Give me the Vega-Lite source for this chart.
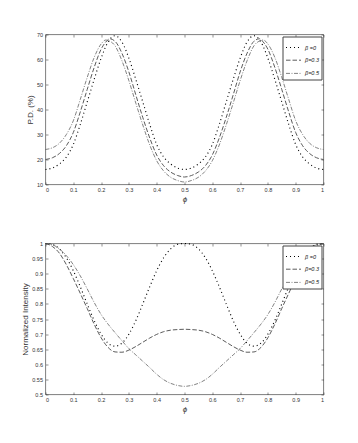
{
  "$schema": "https://vega.github.io/schema/vega-lite/v6.json",
  "background": "white",
  "padding": {"left": 20.5, "top": 31.5, "right": 30, "bottom": 20},
  "spacing": 37,
  "config": {
    "font": "Liberation Sans",
    "view": {"stroke": "#262626", "strokeWidth": 0.6},
    "axis": {"grid": false, "domain": false, "labelFontSize": 5.5, "labelColor": "#333333", "tickColor": "#262626", "tickSize": -2.5, "tickWidth": 0.5, "labelPadding": 5.5, "titleFontSize": 8, "titleFontWeight": "normal", "titleColor": "#333333", "titlePadding": 2},
    "legend": {"orient": "top-right", "offset": 2, "fillColor": "white", "strokeColor": "#444444", "padding": 2.5, "labelFontSize": 5.5, "labelFontStyle": "italic", "labelColor": "#222222", "symbolType": "stroke", "symbolSize": 225, "rowPadding": 1.2, "labelOffset": 3}
  },
  "datasets": {
    "pd": [
      {"phi":0,"beta":"β =0","v":16},{"phi":0.025,"beta":"β =0","v":16.6},{"phi":0.05,"beta":"β =0","v":18.2},{"phi":0.075,"beta":"β =0","v":21},{"phi":0.1,"beta":"β =0","v":26},{"phi":0.125,"beta":"β =0","v":34},{"phi":0.15,"beta":"β =0","v":43},{"phi":0.175,"beta":"β =0","v":52},{"phi":0.2,"beta":"β =0","v":60.5},{"phi":0.225,"beta":"β =0","v":67},{"phi":0.25,"beta":"β =0","v":69.5},{"phi":0.275,"beta":"β =0","v":67},{"phi":0.3,"beta":"β =0","v":60.5},{"phi":0.325,"beta":"β =0","v":52},{"phi":0.35,"beta":"β =0","v":43},{"phi":0.375,"beta":"β =0","v":34},{"phi":0.4,"beta":"β =0","v":26},{"phi":0.425,"beta":"β =0","v":21},{"phi":0.45,"beta":"β =0","v":18.2},{"phi":0.475,"beta":"β =0","v":16.6},{"phi":0.5,"beta":"β =0","v":16},{"phi":0.525,"beta":"β =0","v":16.6},{"phi":0.55,"beta":"β =0","v":18.2},{"phi":0.575,"beta":"β =0","v":21},{"phi":0.6,"beta":"β =0","v":26},{"phi":0.625,"beta":"β =0","v":34},{"phi":0.65,"beta":"β =0","v":43},{"phi":0.675,"beta":"β =0","v":52},{"phi":0.7,"beta":"β =0","v":60.5},{"phi":0.725,"beta":"β =0","v":67},{"phi":0.75,"beta":"β =0","v":69.5},{"phi":0.775,"beta":"β =0","v":67},{"phi":0.8,"beta":"β =0","v":60.5},{"phi":0.825,"beta":"β =0","v":52},{"phi":0.85,"beta":"β =0","v":43},{"phi":0.875,"beta":"β =0","v":34},{"phi":0.9,"beta":"β =0","v":26},{"phi":0.925,"beta":"β =0","v":21},{"phi":0.95,"beta":"β =0","v":18.2},{"phi":0.975,"beta":"β =0","v":16.6},{"phi":1,"beta":"β =0","v":16},
      {"phi":0,"beta":"β=0.3","v":20},{"phi":0.025,"beta":"β=0.3","v":20.7},{"phi":0.05,"beta":"β=0.3","v":22.4},{"phi":0.075,"beta":"β=0.3","v":25.5},{"phi":0.1,"beta":"β=0.3","v":30.8},{"phi":0.125,"beta":"β=0.3","v":39},{"phi":0.15,"beta":"β=0.3","v":48},{"phi":0.175,"beta":"β=0.3","v":56.8},{"phi":0.2,"beta":"β=0.3","v":64.1},{"phi":0.225,"beta":"β=0.3","v":67.9},{"phi":0.23,"beta":"β=0.3","v":68.3},{"phi":0.25,"beta":"β=0.3","v":67.3},{"phi":0.275,"beta":"β=0.3","v":62.5},{"phi":0.3,"beta":"β=0.3","v":55},{"phi":0.325,"beta":"β=0.3","v":45.8},{"phi":0.35,"beta":"β=0.3","v":36.8},{"phi":0.375,"beta":"β=0.3","v":28.6},{"phi":0.4,"beta":"β=0.3","v":21.8},{"phi":0.425,"beta":"β=0.3","v":17.5},{"phi":0.45,"beta":"β=0.3","v":15},{"phi":0.475,"beta":"β=0.3","v":13.6},{"phi":0.5,"beta":"β=0.3","v":13},{"phi":0.525,"beta":"β=0.3","v":13.6},{"phi":0.55,"beta":"β=0.3","v":15},{"phi":0.575,"beta":"β=0.3","v":17.5},{"phi":0.6,"beta":"β=0.3","v":21.8},{"phi":0.625,"beta":"β=0.3","v":28.6},{"phi":0.65,"beta":"β=0.3","v":36.8},{"phi":0.675,"beta":"β=0.3","v":45.8},{"phi":0.7,"beta":"β=0.3","v":55},{"phi":0.725,"beta":"β=0.3","v":62.5},{"phi":0.75,"beta":"β=0.3","v":67.3},{"phi":0.77,"beta":"β=0.3","v":68.3},{"phi":0.775,"beta":"β=0.3","v":67.9},{"phi":0.8,"beta":"β=0.3","v":64.1},{"phi":0.825,"beta":"β=0.3","v":56.8},{"phi":0.85,"beta":"β=0.3","v":48},{"phi":0.875,"beta":"β=0.3","v":39},{"phi":0.9,"beta":"β=0.3","v":30.8},{"phi":0.925,"beta":"β=0.3","v":25.5},{"phi":0.95,"beta":"β=0.3","v":22.4},{"phi":0.975,"beta":"β=0.3","v":20.7},{"phi":1,"beta":"β=0.3","v":20},
      {"phi":0,"beta":"β=0.5","v":24},{"phi":0.025,"beta":"β=0.5","v":24.7},{"phi":0.05,"beta":"β=0.5","v":26.5},{"phi":0.075,"beta":"β=0.5","v":30},{"phi":0.1,"beta":"β=0.5","v":35.5},{"phi":0.125,"beta":"β=0.5","v":44},{"phi":0.15,"beta":"β=0.5","v":52.8},{"phi":0.175,"beta":"β=0.5","v":60.8},{"phi":0.2,"beta":"β=0.5","v":66.2},{"phi":0.217,"beta":"β=0.5","v":67.8},{"phi":0.225,"beta":"β=0.5","v":67.6},{"phi":0.25,"beta":"β=0.5","v":65.5},{"phi":0.275,"beta":"β=0.5","v":59.5},{"phi":0.3,"beta":"β=0.5","v":51.5},{"phi":0.325,"beta":"β=0.5","v":42.5},{"phi":0.35,"beta":"β=0.5","v":33.8},{"phi":0.375,"beta":"β=0.5","v":25.8},{"phi":0.4,"beta":"β=0.5","v":19.5},{"phi":0.425,"beta":"β=0.5","v":15.4},{"phi":0.45,"beta":"β=0.5","v":12.9},{"phi":0.475,"beta":"β=0.5","v":11.6},{"phi":0.5,"beta":"β=0.5","v":11},{"phi":0.525,"beta":"β=0.5","v":11.6},{"phi":0.55,"beta":"β=0.5","v":12.9},{"phi":0.575,"beta":"β=0.5","v":15.4},{"phi":0.6,"beta":"β=0.5","v":19.5},{"phi":0.625,"beta":"β=0.5","v":25.8},{"phi":0.65,"beta":"β=0.5","v":33.8},{"phi":0.675,"beta":"β=0.5","v":42.5},{"phi":0.7,"beta":"β=0.5","v":51.5},{"phi":0.725,"beta":"β=0.5","v":59.5},{"phi":0.75,"beta":"β=0.5","v":65.5},{"phi":0.775,"beta":"β=0.5","v":67.6},{"phi":0.783,"beta":"β=0.5","v":67.8},{"phi":0.8,"beta":"β=0.5","v":66.2},{"phi":0.825,"beta":"β=0.5","v":60.8},{"phi":0.85,"beta":"β=0.5","v":52.8},{"phi":0.875,"beta":"β=0.5","v":44},{"phi":0.9,"beta":"β=0.5","v":35.5},{"phi":0.925,"beta":"β=0.5","v":30},{"phi":0.95,"beta":"β=0.5","v":26.5},{"phi":0.975,"beta":"β=0.5","v":24.7},{"phi":1,"beta":"β=0.5","v":24}
    ],
    "ni": [
      {"phi":0,"beta":"β =0","v":1},{"phi":0.025,"beta":"β =0","v":0.997},{"phi":0.05,"beta":"β =0","v":0.982},{"phi":0.075,"beta":"β =0","v":0.953},{"phi":0.1,"beta":"β =0","v":0.91},{"phi":0.125,"beta":"β =0","v":0.857},{"phi":0.15,"beta":"β =0","v":0.8},{"phi":0.175,"beta":"β =0","v":0.745},{"phi":0.2,"beta":"β =0","v":0.7},{"phi":0.225,"beta":"β =0","v":0.67},{"phi":0.25,"beta":"β =0","v":0.66},{"phi":0.275,"beta":"β =0","v":0.67},{"phi":0.3,"beta":"β =0","v":0.7},{"phi":0.325,"beta":"β =0","v":0.745},{"phi":0.35,"beta":"β =0","v":0.8},{"phi":0.375,"beta":"β =0","v":0.857},{"phi":0.4,"beta":"β =0","v":0.91},{"phi":0.425,"beta":"β =0","v":0.953},{"phi":0.45,"beta":"β =0","v":0.982},{"phi":0.475,"beta":"β =0","v":0.997},{"phi":0.5,"beta":"β =0","v":1},{"phi":0.525,"beta":"β =0","v":0.997},{"phi":0.55,"beta":"β =0","v":0.982},{"phi":0.575,"beta":"β =0","v":0.953},{"phi":0.6,"beta":"β =0","v":0.91},{"phi":0.625,"beta":"β =0","v":0.857},{"phi":0.65,"beta":"β =0","v":0.8},{"phi":0.675,"beta":"β =0","v":0.745},{"phi":0.7,"beta":"β =0","v":0.7},{"phi":0.725,"beta":"β =0","v":0.67},{"phi":0.75,"beta":"β =0","v":0.66},{"phi":0.775,"beta":"β =0","v":0.67},{"phi":0.8,"beta":"β =0","v":0.7},{"phi":0.825,"beta":"β =0","v":0.745},{"phi":0.85,"beta":"β =0","v":0.8},{"phi":0.875,"beta":"β =0","v":0.857},{"phi":0.9,"beta":"β =0","v":0.91},{"phi":0.925,"beta":"β =0","v":0.953},{"phi":0.95,"beta":"β =0","v":0.982},{"phi":0.975,"beta":"β =0","v":0.997},{"phi":1,"beta":"β =0","v":1},
      {"phi":0,"beta":"β=0.3","v":1},{"phi":0.025,"beta":"β=0.3","v":0.99},{"phi":0.05,"beta":"β=0.3","v":0.968},{"phi":0.075,"beta":"β=0.3","v":0.93},{"phi":0.1,"beta":"β=0.3","v":0.884},{"phi":0.125,"beta":"β=0.3","v":0.835},{"phi":0.15,"beta":"β=0.3","v":0.785},{"phi":0.175,"beta":"β=0.3","v":0.733},{"phi":0.2,"beta":"β=0.3","v":0.688},{"phi":0.225,"beta":"β=0.3","v":0.656},{"phi":0.25,"beta":"β=0.3","v":0.641},{"phi":0.275,"beta":"β=0.3","v":0.64},{"phi":0.3,"beta":"β=0.3","v":0.647},{"phi":0.325,"beta":"β=0.3","v":0.659},{"phi":0.35,"beta":"β=0.3","v":0.673},{"phi":0.375,"beta":"β=0.3","v":0.687},{"phi":0.4,"beta":"β=0.3","v":0.699},{"phi":0.425,"beta":"β=0.3","v":0.708},{"phi":0.45,"beta":"β=0.3","v":0.713},{"phi":0.475,"beta":"β=0.3","v":0.715},{"phi":0.5,"beta":"β=0.3","v":0.716},{"phi":0.525,"beta":"β=0.3","v":0.715},{"phi":0.55,"beta":"β=0.3","v":0.713},{"phi":0.575,"beta":"β=0.3","v":0.708},{"phi":0.6,"beta":"β=0.3","v":0.699},{"phi":0.625,"beta":"β=0.3","v":0.687},{"phi":0.65,"beta":"β=0.3","v":0.673},{"phi":0.675,"beta":"β=0.3","v":0.659},{"phi":0.7,"beta":"β=0.3","v":0.647},{"phi":0.725,"beta":"β=0.3","v":0.64},{"phi":0.75,"beta":"β=0.3","v":0.641},{"phi":0.775,"beta":"β=0.3","v":0.656},{"phi":0.8,"beta":"β=0.3","v":0.688},{"phi":0.825,"beta":"β=0.3","v":0.733},{"phi":0.85,"beta":"β=0.3","v":0.785},{"phi":0.875,"beta":"β=0.3","v":0.835},{"phi":0.9,"beta":"β=0.3","v":0.884},{"phi":0.925,"beta":"β=0.3","v":0.93},{"phi":0.95,"beta":"β=0.3","v":0.968},{"phi":0.975,"beta":"β=0.3","v":0.99},{"phi":1,"beta":"β=0.3","v":1},
      {"phi":0,"beta":"β=0.5","v":1},{"phi":0.025,"beta":"β=0.5","v":0.996},{"phi":0.05,"beta":"β=0.5","v":0.982},{"phi":0.075,"beta":"β=0.5","v":0.96},{"phi":0.1,"beta":"β=0.5","v":0.93},{"phi":0.125,"beta":"β=0.5","v":0.893},{"phi":0.15,"beta":"β=0.5","v":0.85},{"phi":0.175,"beta":"β=0.5","v":0.805},{"phi":0.2,"beta":"β=0.5","v":0.765},{"phi":0.225,"beta":"β=0.5","v":0.733},{"phi":0.25,"beta":"β=0.5","v":0.705},{"phi":0.275,"beta":"β=0.5","v":0.678},{"phi":0.3,"beta":"β=0.5","v":0.652},{"phi":0.325,"beta":"β=0.5","v":0.631},{"phi":0.35,"beta":"β=0.5","v":0.61},{"phi":0.375,"beta":"β=0.5","v":0.589},{"phi":0.4,"beta":"β=0.5","v":0.567},{"phi":0.425,"beta":"β=0.5","v":0.549},{"phi":0.45,"beta":"β=0.5","v":0.537},{"phi":0.475,"beta":"β=0.5","v":0.53},{"phi":0.5,"beta":"β=0.5","v":0.527},{"phi":0.525,"beta":"β=0.5","v":0.53},{"phi":0.55,"beta":"β=0.5","v":0.537},{"phi":0.575,"beta":"β=0.5","v":0.549},{"phi":0.6,"beta":"β=0.5","v":0.567},{"phi":0.625,"beta":"β=0.5","v":0.589},{"phi":0.65,"beta":"β=0.5","v":0.61},{"phi":0.675,"beta":"β=0.5","v":0.631},{"phi":0.7,"beta":"β=0.5","v":0.652},{"phi":0.725,"beta":"β=0.5","v":0.678},{"phi":0.75,"beta":"β=0.5","v":0.705},{"phi":0.775,"beta":"β=0.5","v":0.733},{"phi":0.8,"beta":"β=0.5","v":0.765},{"phi":0.825,"beta":"β=0.5","v":0.805},{"phi":0.85,"beta":"β=0.5","v":0.85},{"phi":0.875,"beta":"β=0.5","v":0.893},{"phi":0.9,"beta":"β=0.5","v":0.93},{"phi":0.925,"beta":"β=0.5","v":0.96},{"phi":0.95,"beta":"β=0.5","v":0.982},{"phi":0.975,"beta":"β=0.5","v":0.996},{"phi":1,"beta":"β=0.5","v":1}
    ]
  },
  "vconcat": [
    {
      "width": 278,
      "height": 150,
      "data": {"name": "pd"},
      "layer": [
        {
          "mark": {"type": "line", "interpolate": "monotone", "strokeCap": "butt"},
          "encoding": {
            "x": {"field": "phi", "type": "quantitative", "scale": {"domain": [0, 1], "nice": false}, "axis": {"values": [0,0.1,0.2,0.3,0.4,0.5,0.6,0.7,0.8,0.9,1], "format": ".1~f", "labelColor": "#333333", "title": "ϕ", "titleFontStyle": "italic"}},
            "y": {"field": "v", "type": "quantitative", "scale": {"domain": [10, 70], "nice": false}, "axis": {"values": [10,20,30,40,50,60,70], "format": "d", "labelColor": "#333333", "title": "P.D.  (%)"}},
            "color": {"field": "beta", "type": "nominal", "scale": {"domain": ["β =0","β=0.3","β=0.5"], "range": ["#000000","#4d4d4d","#4d4d4d"]}, "legend": {"title": null}},
            "strokeDash": {"field": "beta", "type": "nominal", "scale": {"domain": ["β =0","β=0.3","β=0.5"], "range": [[1,3],[4.5,2],[4,1.5,1,1.5]]}, "legend": {"title": null}},
            "strokeWidth": {"field": "beta", "type": "nominal", "scale": {"domain": ["β =0","β=0.3","β=0.5"], "range": [1.15,0.7,0.7]}, "legend": {"title": null}}
          }
        },
        {
          "mark": {"type": "line", "opacity": 0},
          "encoding": {
            "x": {"field": "phi", "type": "quantitative", "scale": {"domain": [0, 1], "nice": false}, "axis": {"orient": "top", "values": [0,0.1,0.2,0.3,0.4,0.5,0.6,0.7,0.8,0.9,1], "labels": false, "title": null}},
            "y": {"field": "v", "type": "quantitative", "scale": {"domain": [10, 70], "nice": false}, "axis": {"orient": "right", "values": [10,20,30,40,50,60,70], "labels": false, "title": null}},
            "detail": {"field": "beta", "type": "nominal"}
          }
        }
      ],
      "resolve": {"axis": {"x": "independent", "y": "independent"}}
    },
    {
      "width": 278,
      "height": 151,
      "data": {"name": "ni"},
      "layer": [
        {
          "mark": {"type": "line", "interpolate": "monotone", "strokeCap": "butt"},
          "encoding": {
            "x": {"field": "phi", "type": "quantitative", "scale": {"domain": [0, 1], "nice": false}, "axis": {"values": [0,0.1,0.2,0.3,0.4,0.5,0.6,0.7,0.8,0.9,1], "format": ".1~f", "labelColor": "#333333", "title": "ϕ", "titleFontStyle": "italic"}},
            "y": {"field": "v", "type": "quantitative", "scale": {"domain": [0.5, 1], "nice": false}, "axis": {"values": [0.5,0.55,0.6,0.65,0.7,0.75,0.8,0.85,0.9,0.95,1], "format": ".2~f", "labelColor": "#333333", "title": "Normalized Intensity"}},
            "color": {"field": "beta", "type": "nominal", "scale": {"domain": ["β =0","β=0.3","β=0.5"], "range": ["#000000","#4d4d4d","#4d4d4d"]}, "legend": {"title": null}},
            "strokeDash": {"field": "beta", "type": "nominal", "scale": {"domain": ["β =0","β=0.3","β=0.5"], "range": [[1,3],[4.5,2],[4,1.5,1,1.5]]}, "legend": {"title": null}},
            "strokeWidth": {"field": "beta", "type": "nominal", "scale": {"domain": ["β =0","β=0.3","β=0.5"], "range": [1.15,0.7,0.7]}, "legend": {"title": null}}
          }
        },
        {
          "mark": {"type": "line", "opacity": 0},
          "encoding": {
            "x": {"field": "phi", "type": "quantitative", "scale": {"domain": [0, 1], "nice": false}, "axis": {"orient": "top", "values": [0,0.1,0.2,0.3,0.4,0.5,0.6,0.7,0.8,0.9,1], "labels": false, "title": null}},
            "y": {"field": "v", "type": "quantitative", "scale": {"domain": [0.5, 1], "nice": false}, "axis": {"orient": "right", "values": [0.5,0.55,0.6,0.65,0.7,0.75,0.8,0.85,0.9,0.95,1], "labels": false, "title": null}},
            "detail": {"field": "beta", "type": "nominal"}
          }
        }
      ],
      "resolve": {"axis": {"x": "independent", "y": "independent"}}
    }
  ],
  "resolve": {"scale": {"color": "independent", "strokeDash": "independent", "strokeWidth": "independent"}, "legend": {"color": "independent", "strokeDash": "independent", "strokeWidth": "independent"}}
}
